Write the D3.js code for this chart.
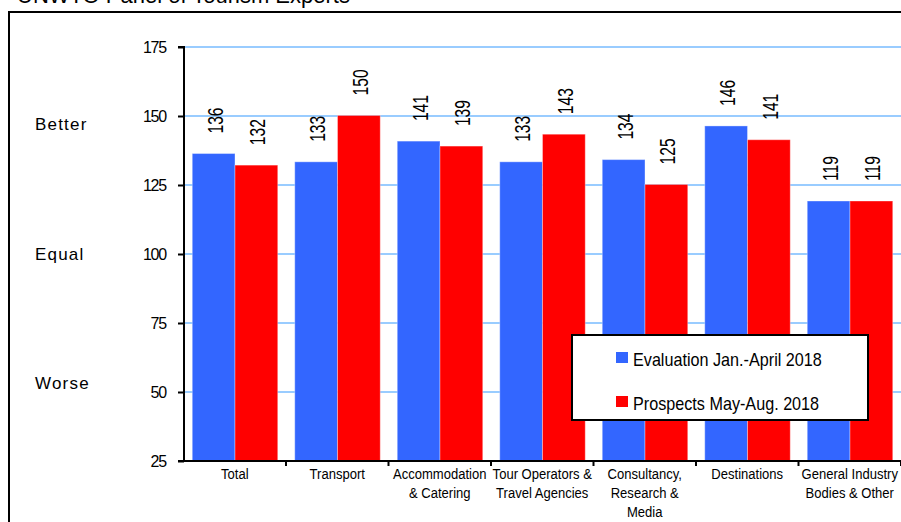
<!DOCTYPE html>
<html><head><meta charset="utf-8">
<script src="https://cdn.jsdelivr.net/npm/d3@7"></script>
<style>
html,body{margin:0;padding:0;background:#fff;overflow:hidden}
text{font-family:"Liberation Sans",Arial,sans-serif;fill:#000}
</style></head><body>
<svg id="c" width="901" height="522"></svg>
<script>
const categories = [
  ["Total"],
  ["Transport"],
  ["Accommodation", "& Catering"],
  ["Tour Operators &", "Travel Agencies"],
  ["Consultancy,", "Research &", "Media"],
  ["Destinations"],
  ["General Industry", "Bodies & Other"]
];
const seriesNames = ["Evaluation Jan.-April 2018", "Prospects May-Aug. 2018"];
const evaluation = [136.4, 133.4, 140.9, 133.4, 134.2, 146.4, 119.2];
const prospects  = [132.2, 150.2, 139.1, 143.4, 125.2, 141.4, 119.2];
const yTicks = [25, 50, 75, 100, 125, 150, 175];
const sideLabels = ["Better", "Equal", "Worse"];
const title = "UNWTO Panel of Tourism Experts";
const colors = ["#3366ff", "#ff0000"];

const svg = d3.select("#c");
const catKeys = categories.map(c => c.join(" "));
const x0 = d3.scaleBand().domain(catKeys).range([183.5, 901]).paddingInner(0).paddingOuter(0);
const x1 = d3.scaleBand().domain([0, 1]).range([8.75, x0.bandwidth() - 8.25]).padding(0);
const y = d3.scaleLinear().domain([25, 175]).range([461, 47]);
const fmt = d3.format(".0f");

// title (partially cut off at top, as in the source)
svg.append("text").attr("x", 17).attr("y", 3).attr("font-size", 22).text(title);

// outer frame
svg.append("path").attr("d", "M9,530 V12 H910").attr("fill", "none").attr("stroke", "#000").attr("stroke-width", 2);

// gridlines
svg.append("g").selectAll("line").data(yTicks.filter(t => t > 25)).join("line")
  .attr("x1", 184).attr("x2", 901).attr("y1", d => y(d)).attr("y2", d => y(d))
  .attr("stroke", "#99ccff").attr("stroke-width", 2);

// bars
const data = categories.map((c, i) => ({ key: catKeys[i], vals: [evaluation[i], prospects[i]] }));
const g = svg.append("g").selectAll("g").data(data).join("g")
  .attr("transform", d => `translate(${x0(d.key)},0)`);
g.selectAll("rect").data(d => d.vals.map((v, s) => ({ v, s }))).join("rect")
  .attr("x", d => x1(d.s)).attr("width", x1.bandwidth())
  .attr("y", d => y(d.v)).attr("height", d => y(25) - y(d.v))
  .attr("fill", d => colors[d.s])
  .attr("stroke", "rgba(255,255,255,0.35)").attr("stroke-width", 1);
g.selectAll("text").data(d => d.vals.map((v, s) => ({ v, s }))).join("text")
  .attr("transform", d => `translate(${x1(d.s) + x1.bandwidth() / 2 + 1},${y(d.v) - 20}) rotate(-90) scale(0.71,1)`)
  .attr("font-size", 22).attr("dy", "0.36em").attr("text-anchor", "start")
  .text(d => fmt(d.v));

// y axis
const yAxis = d3.axisLeft(y).tickValues(yTicks).tickSize(6).tickPadding(12).tickFormat(d3.format("d"));
const ya = svg.append("g").attr("transform", "translate(184,0)").call(yAxis);
ya.select(".domain").attr("stroke", "#000").attr("stroke-width", 2).attr("d", `M-6,${y(175)}H0V${y(25)}H-6`);
ya.selectAll(".tick line").attr("stroke", "#000").attr("stroke-width", 2);
ya.selectAll(".tick text").attr("font-size", 16).attr("font-family", "Liberation Sans, Arial, sans-serif")
  .attr("fill", "#000").attr("letter-spacing", "-1.2px");

// x axis
svg.append("line").attr("x1", 183).attr("x2", 901).attr("y1", y(25)).attr("y2", y(25))
  .attr("stroke", "#000").attr("stroke-width", 2);
const bounds = catKeys.map(k => x0(k)).concat([x0.range()[1]]);
svg.append("g").selectAll("line").data(bounds.slice(1)).join("line")
  .attr("x1", d => d).attr("x2", d => d).attr("y1", y(25)).attr("y2", y(25) + 5)
  .attr("stroke", "#000").attr("stroke-width", 2);
const cl = svg.append("g").selectAll("text").data(data.map((d, i) => ({ key: d.key, lines: categories[i] }))).join("text")
  .attr("text-anchor", "middle").attr("font-size", 14.5)
  .attr("transform", d => `translate(${x0(d.key) + x0.bandwidth() / 2},478.5) scale(0.9,1)`);
cl.selectAll("tspan").data(d => d.lines).join("tspan")
  .attr("x", 0).attr("y", (d, i) => i * 19.5).text(d => d);

// side labels
const sidePos = [130, 260, 389];
svg.append("g").selectAll("text").data(sideLabels).join("text")
  .attr("x", 35).attr("y", (d, i) => sidePos[i]).attr("font-size", 17).attr("letter-spacing", "1.2px").text(d => d);

// legend
const lg = svg.append("g").attr("transform", "translate(572,335)");
lg.append("rect").attr("width", 296).attr("height", 85).attr("fill", "#fff").attr("stroke", "#000").attr("stroke-width", 2);
const li = lg.selectAll("g").data(seriesNames).join("g").attr("transform", (d, i) => `translate(44,${17 + i * 44})`);
li.append("rect").attr("width", 12).attr("height", 11).attr("fill", (d, i) => colors[i]);
li.append("text").attr("transform", "translate(17,14) scale(0.925,1)").attr("font-size", 17.5).text(d => d);
</script>
</body></html>
